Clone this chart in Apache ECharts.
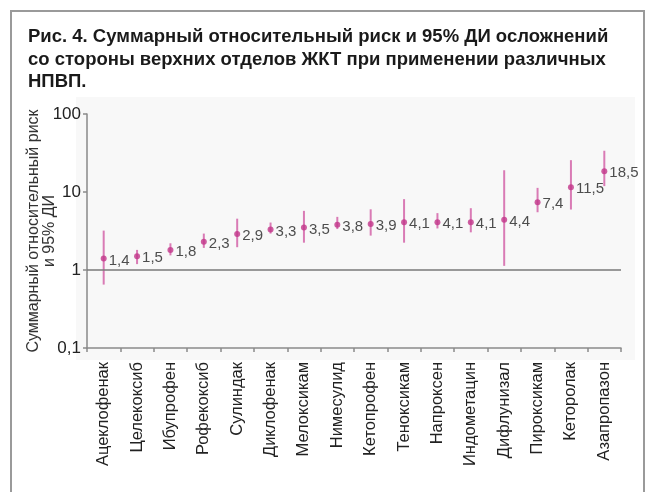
<!DOCTYPE html>
<html>
<head>
<meta charset="utf-8">
<script src="https://cdn.jsdelivr.net/npm/echarts@6/dist/echarts.min.js"></script>
<style>
html,body{margin:0;padding:0;background:#fff;}
#c{width:647px;height:492px;}
</style>
</head>
<body>
<div id="c"></div>
<script>
const categories = ['Ацеклофенак','Целекоксиб','Ибупрофен','Рофекоксиб','Сулиндак','Диклофенак','Мелоксикам','Нимесулид','Кетопрофен','Теноксикам','Напроксен','Индометацин','Дифлунизал','Пироксикам','Кеторолак','Азапропазон'];
const riskValues = [1.4, 1.5, 1.8, 2.3, 2.9, 3.3, 3.5, 3.8, 3.9, 4.1, 4.1, 4.1, 4.4, 7.4, 11.5, 18.5];
const ciLow  = [0.65, 1.19, 1.54, 1.92, 1.96, 2.93, 2.24, 3.35, 2.76, 2.24, 3.41, 3.04, 1.13, 5.5, 5.96, 11.9];
const ciHigh = [3.2, 1.81, 2.2, 2.93, 4.55, 4.06, 5.73, 4.8, 6.0, 8.1, 5.36, 6.2, 19.0, 11.3, 25.6, 33.8];
const yTickLabels = ['0,1', '1', '10', '100'];

const font = '"Liberation Sans", Arial, sans-serif';
const fmt = v => String(v).replace('.', ',');

const chart = echarts.init(document.getElementById('c'), null, {renderer: 'canvas'});
const ciData = categories.map((c, i) => [i, ciLow[i], ciHigh[i]]);

chart.setOption({
  animation: false,
  backgroundColor: '#fff',
  title: {
    text: 'Рис. 4. Суммарный относительный риск и 95% ДИ осложнений\nсо стороны верхних отделов ЖКТ при применении различных\nНПВП.',
    left: 23, top: 21,
    textStyle: {fontFamily: font, fontSize: 18.5, fontWeight: 'bold', color: '#1a1a1a', lineHeight: 22.5}
  },
  graphic: [
    {type: 'rect', z: -10, shape: {x: 11, y: 11, width: 633, height: 500}, style: {fill: 'none', stroke: '#9a9a9a', lineWidth: 2}},
    {type: 'rect', z: -10, shape: {x: 76, y: 97, width: 559, height: 263}, style: {fill: '#f8f8f8'}}
  ],
  grid: {left: 87, right: 26, top: 114, bottom: 144},
  xAxis: {
    type: 'category',
    data: categories,
    boundaryGap: true,
    axisLine: {lineStyle: {color: '#8a8a8a', width: 1.5}},
    axisTick: {show: true, interval: 0, length: 4, lineStyle: {color: '#8a8a8a', width: 1.5}},
    axisLabel: {interval: 0, rotate: 90, margin: 14, color: '#222', fontFamily: font, fontSize: 16.5}
  },
  yAxis: {
    type: 'log',
    logBase: 10,
    min: 0.1,
    max: 100,
    name: 'Суммарный относительный риск\nи 95% ДИ',
    nameLocation: 'middle',
    nameRotate: 90,
    nameGap: 29,
    nameMoveOverlap: false,
    nameTextStyle: {fontFamily: font, fontSize: 16, color: '#333', lineHeight: 16},
    axisLine: {show: true, lineStyle: {color: '#8a8a8a', width: 1.5}},
    axisTick: {show: true, length: 4, lineStyle: {color: '#8a8a8a', width: 1.5}},
    splitLine: {show: false},
    axisLabel: {
      color: '#222', fontFamily: font, fontSize: 17, margin: 6,
      formatter: v => {
        const idx = Math.round(Math.log10(v)) + 1;
        return yTickLabels[idx] !== undefined ? yTickLabels[idx] : fmt(v);
      }
    }
  },
  series: [
    {
      type: 'custom',
      data: ciData,
      z: 2,
      renderItem: function (params, api) {
        const x = api.value(0);
        const lo = api.coord([x, api.value(1)]);
        const hi = api.coord([x, api.value(2)]);
        return {type: 'line', shape: {x1: lo[0], y1: lo[1], x2: hi[0], y2: hi[1]}, style: {stroke: '#d97bb5', lineWidth: 2}};
      },
      markLine: {
        silent: true,
        symbol: 'none',
        label: {show: false},
        lineStyle: {color: '#7a7a7a', width: 1.5, type: 'solid'},
        data: [{yAxis: 1}]
      }
    },
    {
      type: 'scatter',
      data: riskValues,
      z: 3,
      symbol: 'circle',
      symbolSize: 6,
      itemStyle: {color: '#c2368a'},
      label: {
        show: true, position: 'right', distance: 2, offset: [0, 2],
        color: '#222', fontFamily: font, fontSize: 15,
        formatter: p => fmt(p.value)
      }
    }
  ]
});
</script>
</body>
</html>
